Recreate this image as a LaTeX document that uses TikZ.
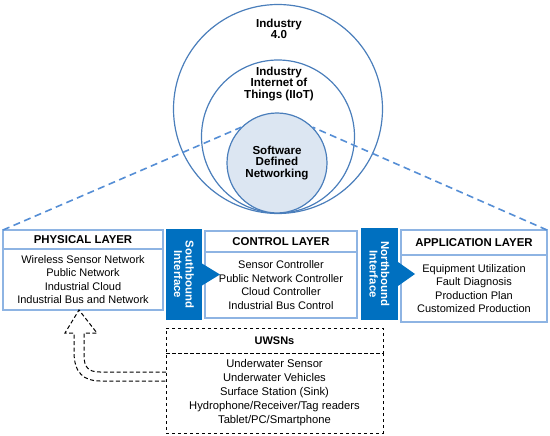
\documentclass[tikz,border=0pt]{standalone}
\usepackage{fontspec}
\setmainfont{Liberation Sans}
\usepackage{tikz}
\definecolor{ringblue}{HTML}{4A7EBB}
\definecolor{ringfill}{HTML}{DCE6F2}
\definecolor{zoomblue}{HTML}{558ED5}
\definecolor{boxblue}{HTML}{8EB4E3}
\definecolor{ifaceblue}{HTML}{0070C0}
\tikzset{
  sdnpicture/.style={x=1pt, y=-1pt},
  ringnode/.style={circle, draw=ringblue, line width=1.2pt, inner sep=0pt},
  ringtext/.style={align=center, font=\fontsize{11.6}{11.5}\selectfont\bfseries},
  layerhead/.style={draw=boxblue, line width=1.2pt, inner sep=0pt, outer sep=0pt, font=\fontsize{11.4}{13}\selectfont\bfseries},
  layerbody/.style={draw=boxblue, line width=1.2pt, inner sep=0pt, outer sep=0pt, align=center, font=\fontsize{11}{13.4}\selectfont},
  ifacebox/.style={fill=ifaceblue, text=white, rotate=-90, align=center, inner sep=0pt, outer sep=0pt, font=\fontsize{11.4}{11.5}\selectfont\bfseries},
  zoomline/.style={draw=zoomblue, line width=1.6pt, dash pattern=on 7pt off 4.5pt},
  uwsnhead/.style={draw, dashed, line width=1pt, inner sep=0pt, outer sep=0pt, font=\fontsize{11}{13}\selectfont\bfseries},
  uwsnbody/.style={draw, dashed, line width=1pt, inner sep=0pt, outer sep=0pt, align=center, font=\fontsize{11.2}{14}\selectfont},
  hollowarrow/.style={draw, line width=1pt, dash pattern=on 4pt off 2.5pt}
}
\begin{document}
\begin{tikzpicture}[sdnpicture]
\useasboundingbox (0,0) rectangle (550,436);
% nested rings
\node[ringnode, minimum size=209pt] (ind40) at (278,109) {};
\node[ringnode, minimum size=153pt] (iiot) at (278,136.5) {};
\node[ringnode, fill=ringfill, minimum size=100pt, ringtext] (sdn) at (277,163) {Software\\Defined\\Networking};
\node[ringtext] (ind40text) at (279,29) {Industry\\4.0};
\node[ringtext] (iiottext) at (279,84) {Industry\\Internet of\\Things (IIoT)};
% layers
\node[layerhead, minimum width=160pt, minimum height=19pt] (physhead) at (83,239.5) {PHYSICAL LAYER};
\node[layerbody, minimum width=160pt, minimum height=61pt] (physbody) at (83,279.5) {Wireless Sensor Network\\Public Network\\Industrial Cloud\\Industrial Bus and Network};
\node[layerhead, minimum width=152pt, minimum height=21pt] (ctrlhead) at (281,241.5) {CONTROL LAYER};
\node[layerbody, minimum width=152pt, minimum height=66pt] (ctrlbody) at (281,285) {Sensor Controller\\Public Network Controller\\Cloud Controller\\Industrial Bus Control};
\node[layerhead, minimum width=146pt, minimum height=25pt] (apphead) at (474,242.5) {APPLICATION LAYER};
\node[layerbody, minimum width=146pt, minimum height=67pt] (appbody) at (474,288.5) {Equipment Utilization\\Fault Diagnosis\\Production Plan\\Customized Production};
% interfaces
\node[ifacebox, minimum width=91pt, minimum height=36pt] (south) at (184,274.5) {Southbound\\Interface};
\node[ifacebox, minimum width=92pt, minimum height=37pt] (north) at (379.5,274) {Northbound\\Interface};
\fill[ifaceblue] (south.north) ++(0,-11) -- ++(18,11) -- ++(-18,11) -- cycle;
\fill[ifaceblue] (north.north) ++(0,-12) -- ++(17,12) -- ++(-17,12) -- cycle;
% zoom lines
\draw[zoomline] (physhead.north west) -- (sdn.135);
\draw[zoomline] (apphead.north east) -- (sdn.45);
% underwater
\node[uwsnhead, minimum width=217pt, minimum height=25pt] (uwsnhead) at (274.5,340.5) {UWSNs};
\node[uwsnbody, minimum width=217pt, minimum height=80pt] (uwsnbody) at (274.5,393) {Underwater Sensor\\Underwater Vehicles\\Surface Station (Sink)\\Hydrophone/Receiver/Tag readers\\Tablet/PC/Smartphone};
\draw[hollowarrow] (uwsnbody.west |- 0,372) -- (100,372) .. controls (88,372) and (84,367) .. (84,355) -- (84,333) -- (97,333) -- (physbody.south -| 79,0) -- (65,333) -- (74,333) -- (74,352) .. controls (74,373) and (84,381) .. (100,381) -- (uwsnbody.west |- 0,381);
\end{tikzpicture}
\end{document}
